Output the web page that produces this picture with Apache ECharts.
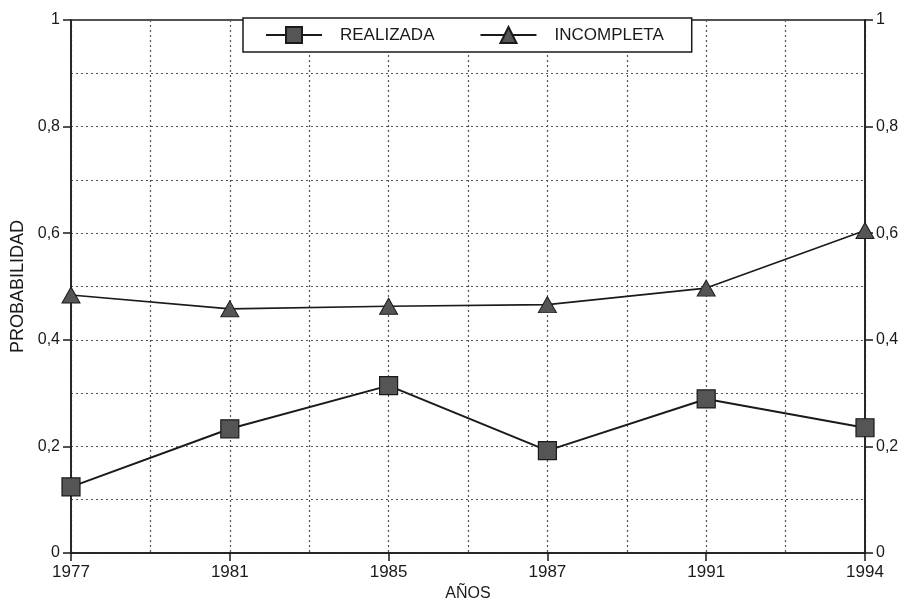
<!DOCTYPE html>
<html>
<head>
<meta charset="utf-8">
<script src="https://cdn.jsdelivr.net/npm/echarts@6/dist/echarts.min.js"></script>
<style>html,body{margin:0;padding:0;background:#fff;}#c{width:905px;height:599px;}</style>
</head>
<body>
<div id="c"></div>
<script>
const years = ['1977', '1981', '1985', '1987', '1991', '1994'];
const realizada = [0.124, 0.233, 0.314, 0.192, 0.289, 0.235];
const incompleta = [0.484, 0.458, 0.463, 0.466, 0.497, 0.605];
const seriesNames = ['REALIZADA', 'INCOMPLETA'];

const font = 'Liberation Sans, Arial, sans-serif';
const ink = '#1a1a1a';
const fmtY = v => (v === 0 || v === 1) ? String(v) : String(v).replace('.', ',');
const idx = a => a.map((v, i) => [i, v]);
const dotted = {color: '#555', type: [2, 3], width: 1.2};

const chart = echarts.init(document.getElementById('c'), null, {renderer: 'canvas'});
const yAxisBase = {
  type: 'value', min: 0, max: 1, interval: 0.2,
  axisLine: {show: true, lineStyle: {color: ink, width: 1.5}},
  axisTick: {show: true, length: 8, lineStyle: {color: ink, width: 1.5}},
  axisLabel: {color: ink, fontSize: 16, fontFamily: font, formatter: fmtY, margin: 11},
  minorTick: {show: false, splitNumber: 2},
};
chart.setOption({
  animation: false,
  backgroundColor: '#fff',
  grid: {left: 71, right: 40, top: 20, bottom: 46, show: true, borderColor: ink, borderWidth: 1.5,
         containLabel: false, outerBoundsMode: 'none'},
  legend: {
    top: 18, left: 243,
    data: seriesNames,
    backgroundColor: '#fff',
    borderColor: ink, borderWidth: 1.5,
    padding: [8, 28, 8, 22],
    itemGap: 45, itemWidth: 56, itemHeight: 20,
    textStyle: {color: ink, fontSize: 17, fontFamily: font, padding: [0, 0, 0, 13]}
  },
  xAxis: {
    type: 'value', min: 0, max: years.length - 1, interval: 1,
    name: 'AÑOS', nameLocation: 'middle', nameGap: 33,
    nameTextStyle: {color: ink, fontSize: 16, fontFamily: font},
    axisLine: {show: true, lineStyle: {color: ink, width: 1.5}},
    axisTick: {show: true, length: 8, lineStyle: {color: ink, width: 1.5}},
    axisLabel: {color: ink, fontSize: 17, fontFamily: font, margin: 11,
      formatter: v => years[Math.round(v)] || ''},
    splitLine: {show: true, lineStyle: dotted},
    minorTick: {show: false, splitNumber: 2},
    minorSplitLine: {show: true, lineStyle: dotted}
  },
  yAxis: [
    Object.assign({}, yAxisBase, {
      position: 'left',
      name: 'PROBABILIDAD', nameLocation: 'middle', nameGap: 44, nameRotate: 90,
      nameTextStyle: {color: ink, fontSize: 18, fontFamily: font},
      splitLine: {show: true, lineStyle: dotted},
      minorSplitLine: {show: true, lineStyle: dotted}
    }),
    Object.assign({}, yAxisBase, {
      position: 'right',
      splitLine: {show: false},
      minorSplitLine: {show: false}
    })
  ],
  series: [
    {
      name: seriesNames[0], type: 'line', data: idx(realizada),
      symbol: 'rect', symbolSize: 18,
      lineStyle: {color: ink, width: 2},
      itemStyle: {color: '#555', borderColor: ink, borderWidth: 1.2},
      z: 3
    },
    {
      name: seriesNames[1], type: 'line', data: idx(incompleta),
      symbol: 'triangle', symbolSize: [18, 16],
      lineStyle: {color: ink, width: 1.6},
      itemStyle: {color: '#555', borderColor: ink, borderWidth: 1},
      z: 3
    }
  ]
});
</script>
</body>
</html>
